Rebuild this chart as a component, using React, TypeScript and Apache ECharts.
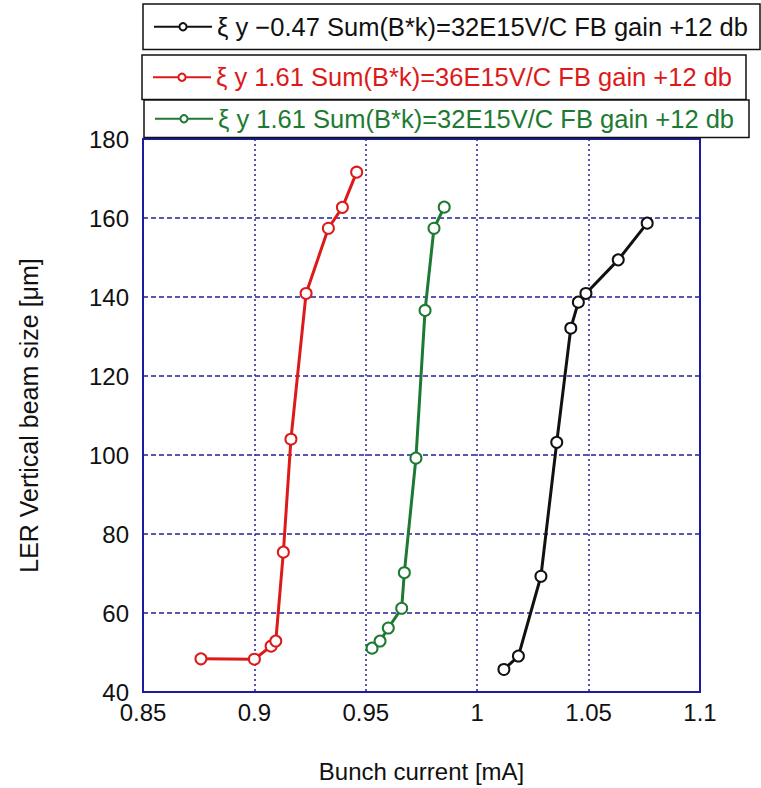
import React, { useEffect, useRef } from "react";
import * as echarts from "echarts";

const seriesNames = [
  "ξ y −0.47 Sum(B*k)=32E15V/C FB gain +12 db",
  "ξ y 1.61 Sum(B*k)=36E15V/C FB gain +12 db",
  "ξ y 1.61 Sum(B*k)=32E15V/C FB gain +12 db",
];
const seriesColors = ["#111111", "#dc1a1a", "#1e7a32"];

const blackX = [1.012, 1.0185, 1.0286, 1.0357, 1.042, 1.0454, 1.0488, 1.0633, 1.0763];
const blackY = [45.7, 49.1, 69.3, 103.2, 132.1, 138.7, 140.9, 149.4, 158.7];

const redX = [0.876, 0.9, 0.9075, 0.9096, 0.913, 0.9164, 0.9232, 0.9332, 0.9395, 0.9459];
const redY = [48.4, 48.3, 51.6, 52.9, 75.4, 104, 140.9, 157.4, 162.7, 171.6];

const greenX = [0.9528, 0.9564, 0.9601, 0.9661, 0.9673, 0.9725, 0.9766, 0.9806, 0.9852];
const greenY = [51.1, 52.9, 56.2, 61.2, 70.2, 99.2, 136.6, 157.4, 162.75];

const xTicks = [0.85, 0.9, 0.95, 1, 1.05, 1.1];
const yTicks = [40, 60, 80, 100, 120, 140, 160, 180];

const xTitle = "Bunch current [mA]";
const yTitle = "LER Vertical beam size [μm]";

const FONT = "'Liberation Sans', Arial, sans-serif";

function measure(text: string, size: number): number {
  const c = document.createElement("canvas");
  const ctx = c.getContext("2d");
  if (!ctx) return text.length * size * 0.55;
  ctx.font = `${size}px ${FONT}`;
  return ctx.measureText(text).width;
}

export default function App() {
  const ref = useRef<HTMLDivElement>(null);
  useEffect(() => {
    if (!ref.current) return;
    const chart = echarts.init(ref.current, undefined, { renderer: "svg" });
    const xs = [blackX, redX, greenX];
    const ys = [blackY, redY, greenY];

    const legendFont = 25.5;
    const boxes = [
      { left: 143, top: 4, right: 759, h: 45 },
      { left: 142, top: 55, right: 745, h: 44 },
      { left: 144, top: 100, right: 748, h: 37 },
    ];
    const itemWidth = 58;
    const padLeft = 10;
    const legends = seriesNames.map((name, i) => {
      const b = boxes[i];
      const tw = measure(name, legendFont);
      const contentH = legendFont;
      const pv = Math.max(2, (b.h - contentH) / 2);
      const pr = Math.max(2, b.right - b.left - padLeft - itemWidth - 5 - tw);
      return {
        data: [name],
        left: b.left,
        top: b.top,
        orient: "horizontal",
        padding: [pv, pr, pv, padLeft],
        borderColor: "#111",
        borderWidth: 1.5,
        backgroundColor: "#ffffff",
        itemWidth,
        itemHeight: 9,
        selectedMode: false,
        textStyle: { color: seriesColors[i], fontSize: legendFont, fontFamily: FONT },
      };
    });

    chart.setOption({
      animation: false,
      backgroundColor: "#ffffff",
      legend: legends,
      grid: {
        left: 143,
        right: 61,
        top: 139,
        bottom: 95,
        show: true,
        borderColor: "#1a1aa8",
        borderWidth: 2,
        backgroundColor: "#ffffff",
      },
      xAxis: {
        type: "value",
        min: xTicks[0],
        max: xTicks[xTicks.length - 1],
        interval: 0.05,
        name: xTitle,
        nameLocation: "middle",
        nameGap: 67,
        nameTextStyle: { fontSize: 24, color: "#111", fontFamily: FONT },
        axisLine: { show: false },
        axisTick: { show: false },
        axisLabel: {
          fontSize: 24,
          lineHeight: 20,
          color: "#111",
          fontFamily: FONT,
          margin: 10,
          formatter: (v: number) => String(+v.toFixed(2)),
        },
        splitLine: {
          show: true,
          lineStyle: { color: "#22229a", width: 1.5, type: [2, 3] },
        },
      },
      yAxis: {
        type: "value",
        min: yTicks[0],
        max: yTicks[yTicks.length - 1],
        interval: 20,
        name: yTitle,
        nameLocation: "middle",
        nameGap: 102,
        nameRotate: 90,
        nameTextStyle: { fontSize: 25, color: "#111", fontFamily: FONT },
        axisLine: { show: false },
        axisTick: { show: false },
        axisLabel: {
          fontSize: 24,
          lineHeight: 18,
          color: "#111",
          fontFamily: FONT,
          margin: 14,
        },
        splitLine: {
          show: true,
          lineStyle: { color: "#22229a", width: 1.5, type: [5, 3] },
        },
      },
      series: seriesNames.map((name, i) => ({
        name,
        type: "line",
        data: xs[i].map((x, k) => [x, ys[i][k]]),
        symbol: "emptyCircle",
        symbolSize: 11,
        color: seriesColors[i],
        lineStyle: { width: 3, color: seriesColors[i] },
        itemStyle: { color: seriesColors[i], borderColor: seriesColors[i], borderWidth: 1.5 },
        z: 3 + i,
      })),
    });
    return () => chart.dispose();
  }, []);
  return (
    <div
      ref={ref}
      style={{ position: "fixed", left: 0, top: 0, width: 761, height: 788, background: "#fff" }}
    />
  );
}
